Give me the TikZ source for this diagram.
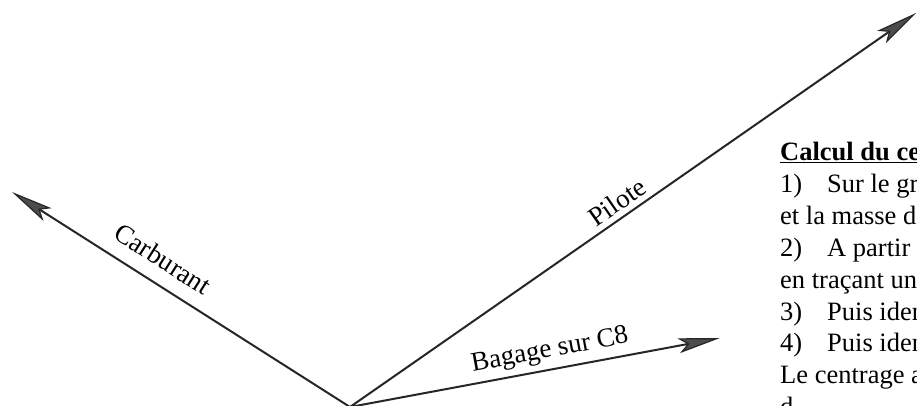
\documentclass[tikz,border=0pt]{standalone}
\usepackage{fontspec}
\setmainfont{Liberation Serif}
\usetikzlibrary{arrows.meta}
\begin{document}
\begin{tikzpicture}[x=1pt,y=-1pt,
  vec/.style={line width=2pt, draw=black!85,
    -{Stealth[length=42pt,width=15pt,inset=9pt,open,line width=1.2pt,fill=black!70]}},
  lbl/.style={font=\fontsize{27}{32}\selectfont, inner sep=0pt},
  txt/.style={font=\fontsize{26.5}{31}\selectfont, anchor=base west, inner sep=0pt}]
\useasboundingbox (0,0) rectangle (917,405);
\clip (0,0) rectangle (917,405);
% vertex and tips
\coordinate (V) at (350,407);
\coordinate (C) at (12,192);
\coordinate (P) at (916,13);
\coordinate (B) at (720,338);
\draw[vec] (V) -- (C);
\draw[vec] (V) -- (P);
\draw[vec] (V) -- (B);
% labels
\node[lbl, rotate=-32.5] (lc) at (163,259) {Carburant};
\node[lbl, rotate=34.8] (lp) at (617,202) {Pilote};
\node[lbl, rotate=10.5] (lb) at (550,351) {Bagage sur C8};
% right text block
\node[txt] (t0) at (780,160) {\underline{\textbf{Calcul du ce}}};
\node[txt] (t1) at (780,192) {\makebox[47pt][l]{1)}Sur le gr};
\node[txt] (t2) at (780,224) {et la masse d};
\node[txt] (t3) at (780,256) {\makebox[47pt][l]{2)}A partir};
\node[txt] (t4) at (780,288) {en traçant un};
\node[txt] (t5) at (780,320) {\makebox[47pt][l]{3)}Puis iden};
\node[txt] (t6) at (780,351) {\makebox[47pt][l]{4)}Puis iden};
\node[txt] (t7) at (780,383) {Le centrage a};
\node[txt] (t8) at (780,415) {d};
\end{tikzpicture}
\end{document}
